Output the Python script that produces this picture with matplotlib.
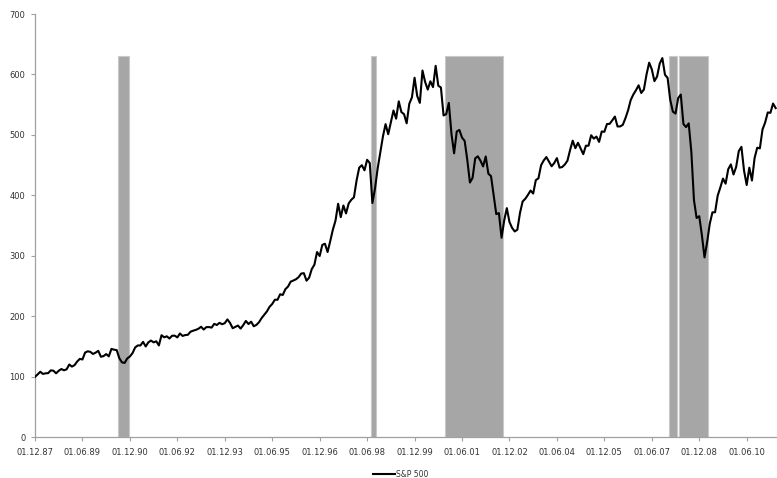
import matplotlib
matplotlib.use("Agg")
import matplotlib.pyplot as plt
import pandas as pd

# ---------------- data ----------------
start_month = "1987-12"          # first monthly observation (01.12.87)
series_name = "S&P 500"

# S&P 500 monthly index (Dec 1987 = 100)
sp500 = [
    100.0,                                                                                   # 1987
    104.0, 108.4, 104.8, 105.8, 106.1, 110.7, 110.1, 105.8, 110.0, 112.9, 110.8, 112.4,       # 1988
    120.4, 116.9, 119.3, 125.3, 129.7, 128.7, 140.1, 142.2, 141.3, 137.8, 140.0, 143.0,       # 1989
    133.2, 134.3, 137.6, 133.9, 146.2, 144.9, 144.1, 130.6, 123.9, 123.0, 130.4, 133.6,       # 1990
    139.2, 148.6, 151.9, 151.9, 157.8, 150.2, 157.0, 160.0, 157.0, 158.8, 151.9, 168.8,       # 1991
    165.4, 167.0, 163.4, 167.9, 168.1, 165.2, 171.7, 167.6, 169.1, 169.5, 174.6, 176.3,       # 1992
    177.6, 179.5, 182.8, 178.2, 182.2, 182.3, 181.4, 187.6, 185.7, 189.3, 186.9, 188.8,       # 1993
    194.9, 189.1, 180.4, 182.5, 184.8, 179.8, 185.5, 192.4, 187.3, 191.2, 183.6, 185.9,       # 1994
    190.4, 197.3, 202.7, 208.3, 215.9, 220.5, 227.5, 227.4, 236.5, 235.4, 245.0, 249.3,       # 1995
    257.4, 259.2, 261.3, 264.8, 270.8, 271.4, 259.0, 263.9, 278.2, 285.4, 306.4, 299.8,       # 1996
    318.2, 320.1, 306.4, 324.3, 343.3, 358.2, 386.2, 364.0, 383.4, 370.2, 386.7, 392.8,       # 1997
    396.8, 424.7, 445.9, 450.0, 441.5, 458.9, 453.6, 387.4, 411.6, 444.7, 471.0, 497.5,       # 1998
    517.9, 501.2, 520.6, 540.4, 526.9, 555.6, 537.8, 534.4, 519.2, 551.6, 562.1, 594.6,       # 1999
    564.4, 553.0, 606.5, 587.8, 575.0, 588.7, 579.1, 614.3, 581.4, 578.5, 532.2, 534.4,       # 2000
    552.9, 501.8, 469.6, 505.7, 508.3, 495.6, 490.2, 458.8, 421.3, 428.9, 461.2, 464.7,       # 2001
    457.4, 447.9, 464.4, 435.9, 431.9, 400.6, 369.0, 370.8, 330.0, 358.5, 379.0, 356.1,       # 2002
    346.3, 340.4, 343.3, 371.1, 390.0, 394.4, 400.8, 408.0, 403.1, 425.3, 428.3, 450.0,       # 2003
    457.8, 463.4, 455.8, 448.2, 453.6, 461.7, 445.9, 446.9, 451.1, 457.4, 475.1, 490.5,       # 2004
    478.1, 487.1, 477.8, 468.2, 482.2, 482.2, 499.5, 493.9, 497.3, 488.5, 505.7, 505.2,       # 2005
    518.1, 518.3, 524.1, 530.4, 514.0, 514.1, 516.7, 527.7, 540.7, 557.7, 566.9, 574.0,       # 2006
    582.1, 569.4, 575.1, 600.0, 619.5, 608.5, 589.0, 596.6, 617.9, 627.1, 599.5, 594.3,       # 2007
    557.9, 538.5, 535.3, 560.8, 566.8, 518.1, 512.9, 519.2, 472.1, 392.1, 362.7, 365.6,       # 2008
    334.3, 297.5, 322.9, 353.3, 372.0, 372.1, 399.7, 413.1, 427.8, 419.4, 443.4, 451.3,       # 2009
    434.6, 447.0, 473.3, 480.3, 440.9, 417.2, 445.9, 424.7, 461.9, 478.9, 477.8, 509.0,       # 2010
    520.5, 537.2, 536.6, 551.9, 544.4,                                                       # 2011
]

# shaded periods (first and last month, inclusive) and their column height
shade_start = ["1990-08", "1998-08", "2000-12", "2008-01", "2008-05"]
shade_end = ["1990-11", "1998-09", "2002-09", "2008-03", "2009-03"]
shade_height = 630

# x-axis tick labels (every 18 months)
tick_labels = ["01.12.87", "01.06.89", "01.12.90", "01.06.92", "01.12.93",
               "01.06.95", "01.12.96", "01.06.98", "01.12.99", "01.06.01",
               "01.12.02", "01.06.04", "01.12.05", "01.06.07", "01.12.08",
               "01.06.10"]
y_ticks = [0, 100, 200, 300, 400, 500, 600, 700]

# ---------------- plot ----------------
plt.rcParams["font.family"] = ["DejaVu Sans"]

months = pd.period_range(start=start_month, periods=len(sp500), freq="M")
month_idx = {str(p): i for i, p in enumerate(months)}
x = list(range(len(sp500)))

fig = plt.figure(figsize=(7.77, 4.78), dpi=100)
ax = fig.add_axes([35 / 777, (478 - 437.3) / 478, 1 - 35 / 777, (437.3 - 14) / 478])

for s, e in zip(shade_start, shade_end):
    i0 = month_idx[s]
    i1 = month_idx[e]
    ax.bar(i0 - 0.5, shade_height, width=i1 - i0 + 1, align="edge",
           color="#a6a6a6", edgecolor="#c9c9c9", linewidth=0.8, zorder=1)

ax.plot(x, sp500, color="black", linewidth=1.5, label=series_name, zorder=3,
        solid_joinstyle="round")

ax.set_xlim(0, 281.5)
ax.set_ylim(0, 700)
ax.set_yticks(y_ticks)
ax.set_xticks([month_idx[pd.Period(pd.to_datetime(t, format="%d.%m.%y"), freq="M").strftime("%Y-%m")]
               for t in tick_labels])
ax.set_xticklabels(tick_labels)

for side in ["top", "right"]:
    ax.spines[side].set_visible(False)
for side in ["left", "bottom"]:
    ax.spines[side].set_color("#a0a0a0")
    ax.spines[side].set_linewidth(0.9)

ax.tick_params(axis="both", colors="#a0a0a0", labelcolor="#333333",
               labelsize=6, length=3, width=0.8, direction="out")
ax.tick_params(axis="y", pad=4)
ax.tick_params(axis="x", pad=5)

fig.legend(loc="center", bbox_to_anchor=((373 + 428) / 2 / 777, (478 - 474.5) / 478),
           frameon=False, fontsize=5.5, handlelength=2.9, handletextpad=0.1,
           borderpad=0, labelcolor="#333333")

fig.savefig("out.png", dpi=100)
